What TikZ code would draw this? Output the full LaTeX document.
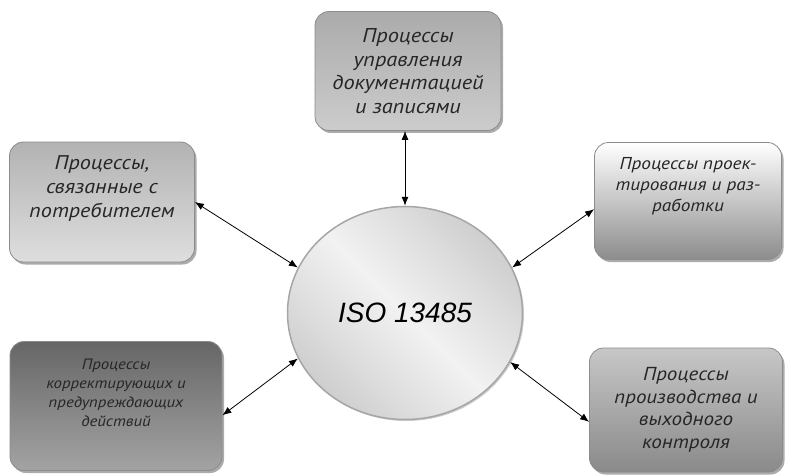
\documentclass[tikz,border=0pt]{standalone}
\usepackage{fontspec}
\setmainfont{Liberation Sans}
\newfontfamily\cyrit{PT Sans}[FakeStretch=1.12]
\usetikzlibrary{shapes.geometric,shadows,arrows.meta}

\begin{document}
\begin{tikzpicture}[x=1pt,y=-1pt,
  proc/.style={rounded corners=14pt,draw=black!45,line width=0.8pt,align=center,
    text=black!85,
    drop shadow={shadow xshift=2pt,shadow yshift=-2.5pt,fill=black!55,opacity=0.6}},
  link/.style={{Latex[length=9pt,width=7pt]}-{Latex[length=9pt,width=7pt]},line width=0.8pt}]
\useasboundingbox (0,0) rectangle (792,476);
\node[ellipse,minimum width=235pt,minimum height=213pt,draw=black!35,line width=1.5pt,
  shading=axis,left color=black!19,right color=black!19,middle color=black!5,shading angle=135,
  drop shadow={shadow xshift=1.5pt,shadow yshift=-1.5pt,fill=black!40,opacity=0.5},
  font=\itshape\fontsize{28}{32}\selectfont] (iso) at (405,313) {ISO 13485};
\node[proc,minimum width=186pt,minimum height=119pt,top color=black!33,bottom color=black!20,
  font=\cyrit\itshape\fontsize{20}{23.5}\selectfont] (doc) at (408,71) {Процессы\\управления\\документацией\\и записями};
\node[proc,minimum width=185pt,minimum height=120pt,top color=black!30,bottom color=black!13,
  font=\cyrit\itshape\fontsize{19.8}{24}\selectfont] (cust) at (102,202) {Процессы,\\связанные с\\потребителем\\[6pt]};
\node[proc,minimum width=187pt,minimum height=117pt,top color=white,bottom color=black!45,
  font=\cyrit\itshape\fontsize{17.2}{21}\selectfont] (des) at (688,201) {Процессы проек-\\тирования и раз-\\работки\\[12pt]};
\node[proc,minimum width=212pt,minimum height=129pt,top color=black!60,bottom color=black!36,
  font=\cyrit\itshape\fontsize{15}{19}\selectfont] (corr) at (116,406) {Процессы\\корректирующих и\\предупреждающих\\действий\\[8pt]};
\node[proc,minimum width=193pt,minimum height=124pt,top color=black!22,bottom color=black!46,
  font=\cyrit\itshape\fontsize{18.8}{22.5}\selectfont] (prod) at (686,410) {Процессы\\производства и\\выходного\\контроля};
\draw[link] (doc.south -| iso.north) -- (iso.north);
\draw[link] (cust.east) -- (iso.157);
\draw[link] (des.185) -- (iso.23);
\draw[link] (corr.355) -- (iso.203);
\draw[link] (iso.335) -- (prod.187);
\end{tikzpicture}
\end{document}
